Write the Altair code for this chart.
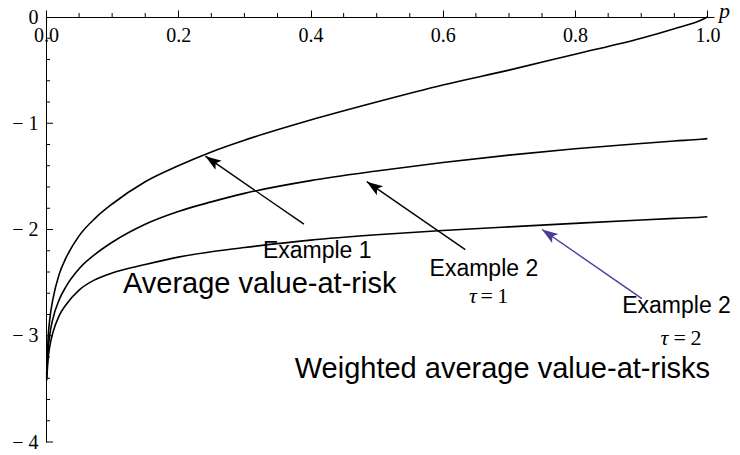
import math
import altair as alt
import pandas as pd

# ---------------- data ----------------
p_values = [0.001, 0.003, 0.006, 0.01, 0.02, 0.03, 0.05, 0.075, 0.1, 0.15, 0.2,
            0.25, 0.3, 0.4, 0.5, 0.6, 0.7, 0.8, 0.9, 0.95, 0.99, 1.0]
example1 = [-3.37, -3.04, -2.83, -2.67, -2.42, -2.27, -2.06, -1.89, -1.76, -1.55, -1.40,
            -1.27, -1.16, -0.97, -0.80, -0.64, -0.50, -0.35, -0.20, -0.11, -0.03, 0.0]
example2_tau1 = [-3.40, -3.15, -2.98, -2.85, -2.66, -2.54, -2.37, -2.23, -2.12, -1.95, -1.83,
                 -1.74, -1.66, -1.54, -1.45, -1.37, -1.30, -1.24, -1.19, -1.167, -1.151, -1.145]
example2_tau2 = [-3.42, -3.23, -3.09, -2.98, -2.81, -2.71, -2.57, -2.47, -2.41, -2.33, -2.26,
                 -2.21, -2.17, -2.10, -2.05, -2.01, -1.975, -1.942, -1.91, -1.895, -1.884, -1.88]
series_names = ["Example 1", "Example 2 tau=1", "Example 2 tau=2"]

x_major_ticks = [0.0, 0.2, 0.4, 0.6, 0.8, 1.0]
x_minor_ticks = [0.05, 0.1, 0.15, 0.25, 0.3, 0.35, 0.45, 0.5, 0.55,
                 0.65, 0.7, 0.75, 0.85, 0.9, 0.95]
y_major_ticks = [0, -1, -2, -3, -4]
y_minor_ticks = [-0.2, -0.4, -0.6, -0.8, -1.2, -1.4, -1.6, -1.8, -2.2, -2.4, -2.6, -2.8,
                 -3.2, -3.4, -3.6, -3.8]

# arrows (tail -> tip), in data units
arrow_tail_p = [0.390, 0.634, 0.901]
arrow_tail_v = [-1.95, -2.19, -2.65]
arrow_tip_p = [0.241, 0.485, 0.750]
arrow_tip_v = [-1.31, -1.55, -2.00]

# ---------------- layout / style ----------------
X_MAX = 1.01
W, H = 668, 425
sx = W / X_MAX
sy = H / 4.0
arrow_colors = ["black", "black", "#483d99"]

rows = []
for name, vals in zip(series_names, [example1, example2_tau1, example2_tau2]):
    for pv, vv in zip(p_values, vals):
        rows.append({"series": name, "p": pv, "v": vv})
curves = pd.DataFrame(rows)

angles = []
for tp, tv, hp, hv in zip(arrow_tail_p, arrow_tail_v, arrow_tip_p, arrow_tip_v):
    dx = (hp - tp) * sx
    dy = -(hv - tv) * sy
    angles.append(math.degrees(math.atan2(dx, -dy)) % 360)
arrows = pd.DataFrame({"tp": arrow_tail_p, "tv": arrow_tail_v, "hp": arrow_tip_p,
                       "hv": arrow_tip_v, "angle": angles, "color": arrow_colors})

sans_labels = pd.DataFrame({
    "text": ["Example 1", "Average value-at-risk", "Example 2", "Example 2",
             "Weighted average value-at-risks"],
    "p": [0.4101, 0.3231, 0.6621, 0.9534, 0.6901],
    "v": [-2.271, -2.600, -2.435, -2.789, -3.393],
    "fs": [23, 29, 23, 23, 29],
})
tau_labels = pd.DataFrame({"text": ["τ", "τ"], "p": [0.6454, 0.9352], "v": [-2.689, -3.087]})
eq_labels = pd.DataFrame({"text": ["=\u20091", "=\u20092"], "p": [0.6568, 0.9489], "v": [-2.689, -3.087]})

xminor = pd.DataFrame({"p": x_minor_ticks})
yminor = pd.DataFrame({"v": y_minor_ticks})
ymajor = pd.DataFrame({"v": y_major_ticks[1:]})

xscale = alt.Scale(domain=[0, X_MAX], nice=False, zero=False)
yscale = alt.Scale(domain=[-4, 0], nice=False, zero=False)

x_axis = alt.Axis(
    orient="top", values=x_major_ticks, format=".1f",
    tickSize=7, tickColor="black", tickWidth=1, domainColor="black", domainWidth=1,
    labelFont="Liberation Serif", labelFontSize=20, labelColor="black",
    labelBaseline="top", labelPadding=-15, labelAlign="center",
    labelFlush=False, labelOverlap=False, grid=False,
    title="p", titleFont="Liberation Serif", titleFontStyle="italic",
    titleFontWeight="normal", titleFontSize=22, titleColor="black",
    titleX=678, titleY=0, titleAlign="center", titleBaseline="alphabetic", titleAngle=0,
)
y_axis = alt.Axis(
    orient="left", values=y_major_ticks,
    labelExpr="datum.value == 0 ? '0' : '− ' + format(abs(datum.value), 'd')",
    tickSize=0, tickColor="black", tickWidth=1, domainColor="black", domainWidth=1,
    labelFont="Liberation Serif", labelFontSize=20, labelColor="black",
    labelAlign="right", labelBaseline="middle", labelPadding=8,
    labelFlush=False, labelOverlap=False, grid=False, title="",
)


def X(field):
    return alt.X(field, scale=xscale, axis=x_axis)


def Y(field):
    return alt.Y(field, scale=yscale, axis=y_axis)


lines = alt.Chart(curves).mark_line(color="black", strokeWidth=1.6, interpolate="monotone").encode(
    x=X("p:Q"), y=Y("v:Q"), detail="series:N",
)

xminor_marks = alt.Chart(xminor).mark_tick(
    orient="vertical", size=4, thickness=1, color="black", yOffset=-2, opacity=1
).encode(x=X("p:Q"), y=alt.datum(0, scale=yscale, axis=y_axis))

yminor_marks = alt.Chart(yminor).mark_tick(
    orient="horizontal", size=4, thickness=1, color="black", xOffset=2, opacity=1
).encode(y=Y("v:Q"), x=alt.datum(0, scale=xscale, axis=x_axis))

ymajor_marks = alt.Chart(ymajor).mark_tick(
    orient="horizontal", size=7, thickness=1, color="black", xOffset=3.5, opacity=1
).encode(y=Y("v:Q"), x=alt.datum(0, scale=xscale, axis=x_axis))

shafts = alt.Chart(arrows).mark_rule(strokeWidth=1.4).encode(
    x=X("tp:Q"), y=Y("tv:Q"), x2="hp:Q", y2="hv:Q",
    color=alt.Color("color:N", scale=None),
)
heads = alt.Chart(arrows).mark_point(
    shape="M0,0 L0.55,1.6 L0,1.25 L-0.55,1.6 Z", filled=True, size=400, opacity=1
).encode(
    x=X("hp:Q"), y=Y("hv:Q"),
    angle=alt.Angle("angle:Q", scale=None),
    color=alt.Color("color:N", scale=None),
)

sans = alt.Chart(sans_labels).mark_text(
    font="Liberation Sans", color="black", align="center", baseline="alphabetic"
).encode(
    x=X("p:Q"), y=Y("v:Q"), text="text:N",
    size=alt.Size("fs:Q", scale=None),
)
tau = alt.Chart(tau_labels).mark_text(
    font="Liberation Serif", fontStyle="italic", fontSize=22, color="black",
    align="center", baseline="alphabetic"
).encode(x=X("p:Q"), y=Y("v:Q"), text="text:N")

eq = alt.Chart(eq_labels).mark_text(
    font="Liberation Serif", fontSize=22, color="black", align="left", baseline="alphabetic"
).encode(x=X("p:Q"), y=Y("v:Q"), text="text:N")

chart = alt.layer(lines, xminor_marks, yminor_marks, ymajor_marks, shafts, heads, sans, tau, eq).properties(
    width=W, height=H,
    autosize=alt.AutoSizeParams(type="none"),
    padding={"left": 38, "top": 9, "right": 18, "bottom": 12},
).configure_view(stroke=None)

chart.save("out.html", embed_options={"renderer": "svg", "actions": False})
